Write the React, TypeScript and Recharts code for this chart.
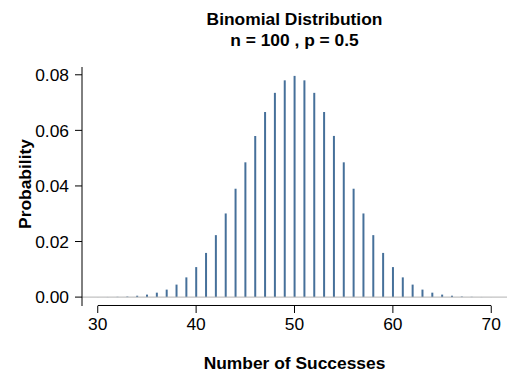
import { BarChart, Bar, XAxis, YAxis, ReferenceLine } from "recharts";

const successes = [
  30, 31, 32, 33, 34, 35, 36, 37, 38, 39, 40, 41, 42, 43, 44, 45, 46, 47, 48, 49, 50,
  51, 52, 53, 54, 55, 56, 57, 58, 59, 60, 61, 62, 63, 64, 65, 66, 67, 68, 69, 70,
];
const probabilities = [
  0.00002, 0.00005, 0.0001, 0.0002, 0.0005, 0.0009, 0.0016, 0.0027, 0.0045, 0.0071,
  0.0108, 0.0159, 0.0223, 0.0301, 0.039, 0.0485, 0.058, 0.0666, 0.0735, 0.078, 0.0796,
  0.078, 0.0735, 0.0666, 0.058, 0.0485, 0.039, 0.0301, 0.0223, 0.0159, 0.0108,
  0.0071, 0.0045, 0.0027, 0.0016, 0.0009, 0.0005, 0.0002, 0.0001, 0.00005, 0.00002,
];
const xTicks = [30, 40, 50, 60, 70];
const yTicks = [0, 0.02, 0.04, 0.06, 0.08];

const data = successes.map((k, i) => ({ k, p: probabilities[i] }));

const FONT = "'Liberation Sans', Arial, Helvetica, sans-serif";
const FS = 17.4;
const X_MIN = 28.4;
const X_MAX = 71.6;
const Y_MIN = -0.0032;
const Y_MAX = 0.0828;

// x axis line, kept inside the domain and nudged onto a pixel centre
const xLineY = Y_MIN + 0.00018;

export default function App() {
  return (
    <div style={{ position: "absolute", left: 0, top: 0, width: 530, height: 392, fontFamily: FONT, background: "#fff" }}>
      <div style={{ position: "absolute", left: 82, width: 425, top: 9, textAlign: "center", fontWeight: "bold", fontSize: FS, lineHeight: "21px" }}>
        <div>Binomial Distribution</div>
        <div>n = 100 , p = 0.5</div>
      </div>
      <BarChart
        width={530}
        height={392}
        data={data}
        margin={{ top: 67, right: 23, left: 22, bottom: 46 }}
      >
        <XAxis
          type="number"
          dataKey="k"
          domain={[X_MIN, X_MAX]}
          ticks={xTicks}
          allowDataOverflow
          axisLine={false}
          tickLine={{ stroke: "#000" }}
          tickSize={7}
          tickMargin={5}
          tick={{ fill: "#000", fontSize: FS, fontFamily: FONT }}
          height={40}
        />
        <YAxis
          type="number"
          domain={[Y_MIN, Y_MAX]}
          ticks={yTicks}
          allowDataOverflow
          axisLine={{ stroke: "#000", strokeWidth: 1 }}
          tickLine={{ stroke: "#000" }}
          tickSize={7}
          tickMargin={6}
          tickFormatter={(v: number) => v.toFixed(2)}
          tick={{ fill: "#000", fontSize: FS, fontFamily: FONT }}
          width={60}
        />
        <ReferenceLine y={0} stroke="#b3b3b3" strokeWidth={1} ifOverflow="visible" />
        <ReferenceLine
          segment={[{ x: 30, y: xLineY }, { x: 70, y: xLineY }]}
          stroke="#010101"
          strokeWidth={1}
          ifOverflow="visible"
        />
        <Bar dataKey="p" fill="#46709a" barSize={2} isAnimationActive={false} />
      </BarChart>
      <div style={{ position: "absolute", left: 82, width: 425, top: 353, textAlign: "center", fontWeight: "bold", fontSize: FS }}>
        Number of Successes
      </div>
      <div
        style={{
          position: "absolute",
          left: 25,
          top: 184,
          transform: "translate(-50%, -50%) rotate(-90deg)",
          fontWeight: "bold",
          fontSize: FS,
          whiteSpace: "nowrap",
        }}
      >
        Probability
      </div>
    </div>
  );
}
